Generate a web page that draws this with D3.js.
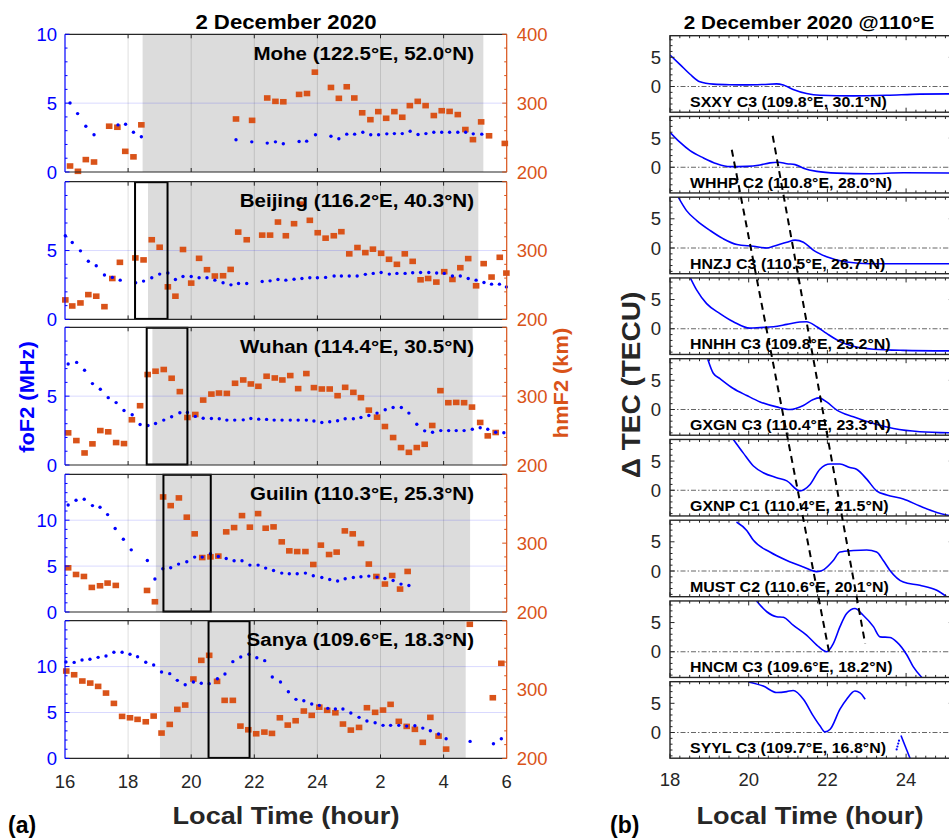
<!DOCTYPE html>
<html>
<head>
<meta charset="utf-8">
<script src="https://cdn.jsdelivr.net/npm/d3@7"></script>
<style>
  html, body { margin: 0; padding: 0; background: #fff; }
  svg { display: block; font-family: Arial, "Liberation Sans", Helvetica, sans-serif; }
</style>
</head>
<body>
<svg id="fig" width="949" height="838"></svg>
<script>
// ---------- (a) ionosonde stations: foF2 (MHz) and hmF2 (km) versus local time ----------
const stationNames = [
  "Mohe (122.5°E, 52.0°N)", "Beijing (116.2°E, 40.3°N)", "Wuhan (114.4°E, 30.5°N)",
  "Guilin (110.3°E, 25.3°N)", "Sanya (109.6°E, 18.3°N)"
];
const foF2Max = [10, 10, 10, 15, 15];
const foF2TickLabels = [[0, 5, 10], [0, 5], [0, 5], [0, 5, 10], [0, 5, 10]];
const hmF2TickLabels = [[200, 300, 400], [200, 300], [200, 300], [200, 300], [200, 300]];
const nightStart = [18.46, 18.63, 18.77, 18.88, 19.01];
const nightEnd = [29.26, 29.10, 28.92, 28.84, 28.70];
const boxStart = [null, 18.22, 18.59, 19.12, 20.55];
const boxEnd = [null, 19.25, 19.88, 20.62, 21.85];
const xTicksA = [16, 18, 20, 22, 24, 26, 28, 30];
const xTickLabelsA = ["16", "18", "20", "22", "24", "2", "4", "6"];

const moheFoF2 = [[16.16,5.01],[16.40,4.24],[16.66,3.32],[16.92,2.70],[17.68,3.42],[17.92,3.47],[18.17,2.89],[18.42,2.56],
  [21.42,2.34],[21.92,2.19],[22.41,2.10],[22.67,2.19],[22.92,2.05],[23.42,2.21],[23.66,2.24],[23.94,2.70],[24.43,2.60],
  [24.68,2.41],[24.93,2.75],[25.18,2.75],[25.44,2.89],[25.69,2.70],[25.94,2.70],[26.20,2.77],[26.44,2.79],[26.69,2.79],
  [26.94,2.96],[27.19,2.72],[27.44,2.79],[27.69,2.89],[27.94,2.89],[28.19,2.89],[28.45,2.89],[28.70,2.89],[28.94,2.77],[29.21,2.75]];
const moheHmF2 = [[16.16,208.7],[16.41,201],[16.66,218],[16.92,214.5],[17.40,266.5],[17.66,265],[17.91,230],[18.17,222],[18.42,268.5],
  [21.42,277],[21.93,275],[22.41,307.5],[22.67,302.6],[22.92,302],[23.42,312.7],[23.67,314],[23.92,345],[24.43,322.8],[24.68,307],
  [24.93,323.8],[25.17,307.5],[25.42,286],[25.68,276],[25.93,287.7],[26.18,278],[26.44,287.7],[26.69,279.5],[26.93,296.4],
  [27.18,302.6],[27.43,296.4],[27.69,282],[27.94,289],[28.19,288],[28.45,283.4],[28.69,261.7],[28.93,247],[29.19,272.8],
  [29.44,252.6],[29.94,241.5]];

const beijingFoF2 = [[16.01,6.08],[16.23,5.59],[16.49,4.98],[16.74,4.22],[16.99,3.90],[17.25,3.22],[17.50,3.05],[17.75,2.85],
  [18.24,2.66],[18.49,2.78],[18.75,3.02],[19.00,3.29],[19.26,3.37],[19.50,2.90],[19.74,3.12],[20.00,3.12],[20.25,3.02],
  [20.50,3.02],[20.75,2.85],[21.01,2.66],[21.26,2.51],[21.50,2.61],[21.76,2.61],[22.25,2.75],[22.50,2.80],[22.75,2.90],
  [23.00,2.85],[23.26,2.92],[23.51,2.97],[23.76,3.02],[24.00,3.02],[24.26,3.05],[24.53,3.15],[24.76,3.15],[25.01,3.15],
  [25.26,3.15],[25.52,3.27],[25.77,3.34],[26.02,3.41],[26.28,3.29],[26.52,3.34],[26.78,3.34],[27.02,3.39],[27.27,3.41],
  [27.53,3.41],[27.78,3.37],[28.02,3.34],[28.28,3.15],[28.53,3.15],[28.78,2.97],[29.03,2.85],[29.28,2.68],[29.52,2.56],
  [29.77,2.56],[29.99,2.36]];
const beijingHmF2 = [[16.01,228.3],[16.23,219.5],[16.49,223.9],[16.74,236],[16.99,233.7],[17.25,218.5],[17.50,259.4],[17.74,282.9],
  [18.23,289.3],[18.49,286.4],[18.75,315.7],[19.00,304.8],[19.26,247.3],[19.50,233.7],[19.74,301.5],[20.00,252.7],[20.25,288.7],
  [20.50,272.2],[20.75,263],[21.01,263.4],[21.25,272.6],[21.49,326.8],[21.76,315.7],[22.25,322.4],[22.50,322.4],[22.75,341.4],
  [23.00,321.5],[23.26,339],[23.51,367.4],[23.76,343.9],[24.01,325.9],[24.26,318],[24.52,321.5],[24.76,327.4],[25.01,295.2],
  [25.27,304.4],[25.52,297],[25.76,302],[26.02,296],[26.27,287.3],[26.52,280],[26.77,295.2],[27.02,284.3],[27.27,257.5],
  [27.51,259.4],[27.77,254.2],[28.02,269.3],[28.28,258],[28.53,275.1],[28.78,288.3],[29.03,248.8],[29.27,281],[29.52,261.5],
  [29.78,290.2],[29.99,267.3]];

const wuhanFoF2 = [[16.10,7.34],[16.37,7.45],[16.62,6.88],[16.87,5.91],[17.12,5.50],[17.37,4.89],[17.62,4.53],[17.87,3.96],
  [18.13,3.65],[18.38,2.94],[18.63,2.87],[18.87,3.01],[19.13,3.26],[19.38,3.50],[19.64,3.79],[19.88,3.82],[20.13,3.53],
  [20.38,3.40],[20.64,3.38],[20.89,3.36],[21.13,3.26],[21.38,3.26],[21.65,3.28],[21.89,3.38],[22.14,3.33],[22.39,3.31],
  [22.63,3.26],[22.88,3.26],[23.14,3.26],[23.39,3.26],[23.65,3.26],[23.89,3.20],[24.14,3.09],[24.39,3.14],[24.64,3.21],
  [24.88,3.36],[25.14,3.36],[25.38,3.45],[25.63,3.60],[25.89,3.77],[26.15,4.01],[26.40,4.18],[26.66,4.18],[26.90,3.77],
  [27.15,2.96],[27.40,2.48],[27.65,2.38],[27.91,2.50],[28.16,2.50],[28.40,2.50],[28.65,2.50],[28.91,2.60],[29.16,2.70],
  [29.40,2.60],[29.65,2.38],[29.91,2.34]];
const wuhanHmF2 = [[16.10,246.7],[16.36,235.5],[16.62,217.5],[16.87,230.7],[17.12,250],[17.37,248.2],[17.62,232.6],[17.87,231.1],
  [18.12,265.7],[18.38,286.1],[18.62,331.4],[18.87,336.2],[19.13,338.7],[19.38,326],[19.64,306.6],[19.88,269],[20.13,273.4],
  [20.38,294.3],[20.64,303],[20.88,304.5],[21.13,304],[21.39,318.7],[21.65,323.5],[21.89,317.7],[22.13,314.3],[22.39,328.9],
  [22.65,326.4],[22.89,323.5],[23.14,329.9],[23.39,310.9],[23.65,332.8],[23.89,312.4],[24.14,310.4],[24.39,310.4],[24.64,300.7],
  [24.88,312.8],[25.14,305.5],[25.38,297.8],[25.63,279.7],[25.89,269.5],[26.14,255.9],[26.40,239.9],[26.65,225.3],[26.90,218.4],
  [27.15,225.3],[27.40,230.1],[27.64,257.4],[27.90,308],[28.15,290.5],[28.40,290.9],[28.65,290.5],[28.90,284.1],[29.16,261.8],
  [29.40,242.3],[29.65,247.2]];

const guilinFoF2 = [[16.10,11.66],[16.35,12.17],[16.61,12.28],[16.87,11.59],[17.11,11.41],[17.35,10.61],[17.59,9.09],[17.85,7.93],
  [18.10,6.77],[18.61,5.61],[18.85,3.59],[19.10,4.71],[19.35,4.82],[19.60,5.22],[19.86,5.47],[20.11,5.98],[20.35,5.98],
  [20.61,6.34],[20.86,6.05],[21.11,5.83],[21.36,5.58],[21.61,5.58],[21.86,5.11],[22.12,5.11],[22.36,4.78],[22.61,4.52],
  [22.87,4.24],[23.11,4.16],[23.36,4.16],[23.62,4.24],[23.87,3.95],[24.14,3.76],[24.39,3.54],[24.64,3.37],[24.88,3.62],
  [25.14,3.76],[25.38,3.84],[25.63,3.91],[25.89,3.80],[26.14,3.65],[26.40,3.43],[26.65,3.04],[26.90,2.89]];
const guilinHmF2 = [[16.10,264.2],[16.35,254.5],[16.60,251.6],[16.85,235.7],[17.11,238.1],[17.35,242],[17.61,238.6],[18.60,231.3],
  [18.85,214.9],[19.11,367.1],[19.35,354.5],[19.61,365.7],[19.86,337.7],[20.11,313.5],[20.35,279.1],[20.61,280.1],[20.86,281.2],
  [21.11,316.4],[21.36,322.6],[21.61,340],[21.86,323.2],[22.12,342.9],[22.36,321.7],[22.61,323.6],[22.87,301.9],[23.11,288.8],
  [23.36,287.8],[23.62,287.8],[23.87,269],[24.11,297.1],[24.37,283.5],[24.61,287],[24.87,317.8],[25.12,313.5],[25.38,299.4],
  [25.63,269.6],[25.87,251.6],[26.14,240.6],[26.37,253],[26.62,233.3],[26.86,258.9]];

const sanyaFoF2 = [[16.03,10.50],[16.29,10.46],[16.54,10.72],[16.79,10.80],[17.05,11.01],[17.30,11.16],[17.55,11.56],[17.81,11.56],
  [18.06,11.34],[18.30,11.08],[18.56,10.47],[18.81,10.17],[19.06,9.41],[19.32,9.23],[19.56,8.50],[19.81,8.03],[20.07,8.32],
  [20.32,8.18],[20.57,8.14],[20.83,8.68],[21.07,9.19],[21.32,10.54],[21.57,11.05],[21.83,11.34],[22.08,10.97],[22.33,10.65],
  [22.57,8.87],[22.83,8.32],[23.08,7.26],[23.32,6.43],[23.57,6.28],[23.82,5.92],[24.06,5.78],[24.33,5.45],[24.57,5.38],
  [24.81,5.38],[25.06,4.94],[25.32,4.47],[25.57,4.07],[25.83,3.88],[26.08,3.60],[26.32,3.60],[26.58,3.60],[26.83,3.52],
  [27.09,3.56],[27.34,3.30],[27.58,3.01],[27.84,2.65],[28.08,2.14],[28.84,1.85],[29.58,1.59],[29.83,2.14]];
const sanyaHmF2 = [[16.04,326.9],[16.29,321.5],[16.55,312.4],[16.80,309.4],[17.05,304.6],[17.30,294.9],[17.55,279.9],[17.81,261],
  [18.06,259],[18.30,256.7],[18.56,253.2],[18.81,261.5],[19.06,236.8],[19.32,249.4],[19.56,271.2],[19.81,277.5],[20.07,315.3],
  [20.32,342.4],[20.57,349.7],[20.82,311.9],[21.06,284.3],[21.32,284.3],[21.56,246.9],[21.81,241.6],[22.06,235.8],[22.32,238.2],
  [22.56,236.3],[22.81,259],[23.06,248.4],[23.31,254.7],[23.57,268.8],[23.82,262.5],[24.06,274.4],[24.31,269.8],[24.57,266.3],
  [24.81,249.9],[25.06,241.1],[25.32,245],[25.57,273.6],[25.83,266.9],[26.08,270.2],[26.32,278.5],[26.58,253.8],[26.83,246.5],
  [27.09,242.2],[27.34,223.3],[27.58,259.6],[27.84,232.4],[28.08,213.5],[28.83,394.8],[29.56,288.1],[29.83,338.1]];

const foF2Series = [moheFoF2, beijingFoF2, wuhanFoF2, guilinFoF2, sanyaFoF2];
const hmF2Series = [moheHmF2, beijingHmF2, wuhanHmF2, guilinHmF2, sanyaHmF2];

// ---------- (b) GNSS receivers along 110°E: detrended TEC (TECU) ----------
const tecLabels = [
  "SXXY C3 (109.8°E, 30.1°N)", "WHHP C2 (110.8°E, 28.0°N)", "HNZJ C3 (110.5°E, 26.7°N)",
  "HNHH C3 (109.8°E, 25.2°N)", "GXGN C3 (110.4°E, 23.3°N)", "GXNP C1 (110.4°E, 21.5°N)",
  "MUST C2 (110.6°E, 20.1°N)", "HNCM C3 (109.6°E, 18.2°N)", "SYYL C3 (109.7°E, 16.8°N)"
];
const xTicksB = [18, 20, 22, 24];
const yTicksB = [0, 5];

const sxxyTec = [[18.0,5.4],[18.25,3.8],[18.51,2.1],[18.76,0.8],[19.10,0.4],[19.52,0.3],[19.95,0.28],[20.37,0.35],[20.71,0.45],
  [20.88,0.25],[21.13,-0.5],[21.47,-1.2],[21.81,-1.5],[22.66,-1.6],[23.51,-1.5],[24.35,-1.3],[25.2,-1.25]];
const whhpTec = [[18.0,6.0],[18.25,4.3],[18.51,2.85],[18.85,1.6],[19.19,0.6],[19.52,0.1],[19.95,0.15],[20.29,0.4],[20.54,0.75],
  [20.75,0.85],[20.97,0.6],[21.18,0.45],[21.39,-0.15],[21.73,-0.7],[22.24,-1.0],[23.08,-1.1],[23.93,-0.95],[25.2,-1.0]];
const hnzjTec = [[18.21,8.7],[18.42,6.4],[18.68,4.7],[19.02,3.0],[19.35,1.6],[19.70,0.6],[20.12,0.3],[20.46,0.0],[20.63,0.3],
  [20.97,1.0],[21.18,1.35],[21.39,1.0],[21.65,-0.4],[21.98,-1.5],[22.49,-2.4],[23.08,-2.7],[25.2,-2.7]];
const hnhhTec = [[18.51,8.8],[18.68,6.6],[18.93,4.3],[19.27,2.6],[19.61,1.2],[20.03,0.1],[20.29,0.2],[20.63,0.35],[20.97,0.75],
  [21.30,1.15],[21.47,1.2],[21.73,0.35],[21.98,-0.8],[22.32,-2.2],[22.66,-3.0],[23.17,-3.5],[23.93,-3.7],[25.2,-3.8]];
const gxgnTec = [[18.96,8.6],[19.10,6.2],[19.27,5.3],[19.61,3.6],[19.95,2.4],[20.29,1.3],[20.71,0.45],[21.05,0.0],[21.39,0.7],
  [21.64,1.7],[21.79,2.0],[21.98,1.3],[22.24,-0.1],[22.66,-1.25],[23.17,-2.4],[23.68,-3.25],[24.35,-3.8],[25.2,-4.0]];
const gxnpTec = [[19.61,8.7],[19.86,6.4],[20.12,4.15],[20.37,3.0],[20.71,2.15],[20.97,1.6],[21.30,-0.1],[21.56,1.0],[21.81,3.6],
  [22.07,4.5],[22.32,4.5],[22.57,3.9],[22.74,3.6],[23.00,1.9],[23.25,-0.1],[23.51,-0.8],[23.93,-1.5],[24.35,-2.7],[24.78,-3.8],[25.2,-4.5]];
const mustTec = [[19.69,8.4],[19.95,6.95],[20.12,5.25],[20.54,3.25],[20.97,1.8],[21.39,0.7],[21.73,-0.1],[21.90,0.2],[22.15,1.8],
  [22.32,3.25],[22.66,3.5],[23.00,3.6],[23.25,3.25],[23.42,1.8],[23.59,0.1],[23.93,-1.9],[24.35,-2.45],[24.78,-3.3],[25.03,-4.4]];
const hncmTec = [[20.20,8.7],[20.46,6.85],[20.71,6.0],[20.88,5.9],[21.13,4.55],[21.47,2.85],[21.73,1.15],[21.98,0.0],[22.15,1.4],
  [22.32,4.3],[22.49,6.55],[22.70,7.4],[22.91,6.25],[23.17,4.3],[23.34,2.55],[23.59,2.45],[23.76,1.7],[24.02,-0.55],[24.18,-2.55],[24.40,-4.4]];
const syylTec = [[19.99,8.65],[20.37,7.95],[20.71,6.85],[20.97,7.0],[21.13,7.2],[21.39,5.7],[21.64,2.85],[21.81,1.15],[21.94,0.1],
  [22.07,0.55],[22.32,4.0],[22.49,5.7],[22.70,7.1],[22.83,6.8],[22.96,5.7]];
const syylTecLate = [[23.87,-0.5],[24.10,-4.4]];
const syylTecSparse = [[23.76,-2.9],[23.78,-2.4],[23.80,-1.9],[23.82,-1.4]];

const tecSeries = [sxxyTec, whhpTec, hnzjTec, hnhhTec, gxgnTec, gxnpTec, mustTec, hncmTec, [syylTec, syylTecLate]];

// two travelling-disturbance fronts: panel index, time, TEC value at each end
const frontStart = [[1, 19.57, 3.0], [1, 20.61, 5.4]];
const frontEnd = [[7, 22.05, -0.3], [7, 22.96, 1.4]];

// ---------- drawing ----------
const AX = "#262626", BLUE = "#0000ff", ORANGE = "#d95319", SHADE = "#dcdcdc";
const svg = d3.select("#fig");

function addText(parent, str, x, y, o = {}) {
  const t = parent.append("text")
    .attr("transform", `translate(${x},${y})${o.rot ? ` rotate(${o.rot})` : ""} scale(${o.sx || 1},1)`)
    .attr("font-size", o.size || 18)
    .attr("font-weight", o.weight || "normal")
    .attr("fill", o.fill || AX)
    .attr("text-anchor", o.anchor || "start")
    .text(str);
  if (o.dy) t.attr("dy", o.dy);
  return t;
}
function hline(g, x1, x2, y, color, w = 1) {
  g.append("line").attr("x1", x1).attr("x2", x2).attr("y1", y).attr("y2", y).attr("stroke", color).attr("stroke-width", w);
}
function vline(g, x, y1, y2, color, w = 1) {
  g.append("line").attr("x1", x).attr("x2", x).attr("y1", y1).attr("y2", y2).attr("stroke", color).attr("stroke-width", w);
}

// panel (a)
const aLeft = 65, aRight = 506.7, aH = 137.7;
const aTops = [34.3, 181.7, 327.3, 474.3, 620.7];
const xA = d3.scaleLinear().domain([16, 30]).range([aLeft, aRight]);

stationNames.forEach((name, i) => {
  const top = aTops[i], bot = top + aH;
  const yF = d3.scaleLinear().domain([0, foF2Max[i]]).range([bot, top]);
  const yH = d3.scaleLinear().domain([200, 400]).range([bot, top]);
  const g = svg.append("g");

  g.append("rect").attr("x", xA(nightStart[i])).attr("y", top)
    .attr("width", xA(nightEnd[i]) - xA(nightStart[i])).attr("height", aH).attr("fill", SHADE);

  g.selectAll("line.vgrid").data(xTicksA.slice(1, -1)).join("line").attr("class", "vgrid")
    .attr("x1", d => xA(d)).attr("x2", d => xA(d)).attr("y1", top).attr("y2", bot)
    .attr("stroke", AX).attr("stroke-opacity", 0.15);
  g.selectAll("line.hgrid").data(d3.range(5, foF2Max[i], 5)).join("line").attr("class", "hgrid")
    .attr("x1", aLeft).attr("x2", aRight).attr("y1", d => yF(d)).attr("y2", d => yF(d))
    .attr("stroke", BLUE).attr("stroke-opacity", 0.15);

  g.selectAll("rect.hm").data(hmF2Series[i]).join("rect").attr("class", "hm")
    .attr("x", d => xA(d[0]) - 3.3).attr("y", d => yH(d[1]) - 2.8)
    .attr("width", 6.6).attr("height", 5.6).attr("fill", ORANGE);
  g.selectAll("circle.fo").data(foF2Series[i]).join("circle").attr("class", "fo")
    .attr("cx", d => xA(d[0])).attr("cy", d => yF(d[1])).attr("r", 1.7).attr("fill", BLUE);

  if (boxStart[i] !== null) {
    g.append("rect").attr("x", xA(boxStart[i])).attr("y", top + 0.5)
      .attr("width", xA(boxEnd[i]) - xA(boxStart[i])).attr("height", aH - 1)
      .attr("fill", "none").attr("stroke", "#000").attr("stroke-width", 2);
  }

  // frame
  hline(g, aLeft, aRight, top, AX, 1.2);
  hline(g, aLeft, aRight, bot, AX, 1.2);
  vline(g, aLeft, top, bot, BLUE, 1.2);
  vline(g, aRight, top, bot, ORANGE, 1.2);

  // ticks
  xTicksA.slice(1, -1).forEach(t => {
    vline(g, xA(t), bot, bot - 4, AX);
    vline(g, xA(t), top, top + 4, AX);
  });
  d3.range(0, foF2Max[i] + 0.01, 1).forEach(v => {
    const major = v % 5 === 0;
    hline(g, aLeft, aLeft + (major ? 4.5 : 2.5), yF(v), BLUE);
  });
  d3.range(200, 401, 20).forEach(v => {
    const major = v % 100 === 0;
    hline(g, aRight, aRight - (major ? 4.5 : 2.5), yH(v), ORANGE);
  });
  foF2TickLabels[i].forEach(v => addText(g, String(v), aLeft - 8, yF(v), { fill: BLUE, anchor: "end", dy: "0.36em", size: 18.5 }));
  hmF2TickLabels[i].forEach(v => addText(g, String(v), aRight + 10, yH(v), { fill: ORANGE, anchor: "start", dy: "0.36em", size: 18.5 }));

  addText(g, name, 474, top + 25.5, { size: 18.5, weight: "bold", fill: "#000", anchor: "end", sx: 1.11 });

  if (i === stationNames.length - 1) {
    xTicksA.forEach((t, k) => addText(g, xTickLabelsA[k], xA(t), bot + 30, { anchor: "middle", size: 18.5 }));
  }
});

addText(svg, "2 December 2020", 286, 29, { size: 20, weight: "bold", fill: "#000", anchor: "middle", sx: 1.11 });
addText(svg, "foF2 (MHz)", 27, 397, { size: 19.5, weight: "bold", fill: BLUE, anchor: "middle", rot: -90, dy: "0.35em", sx: 1.12 });
addText(svg, "hmF2 (km)", 561, 383, { size: 19.5, weight: "bold", fill: ORANGE, anchor: "middle", rot: -90, dy: "0.35em", sx: 1.12 });
addText(svg, "Local Time (hour)", 286, 824, { size: 24, weight: "bold", anchor: "middle", sx: 1.13 });
addText(svg, "(a)", 8, 833, { size: 23, weight: "bold", fill: "#000" });

// panel (b)
const bLeft = 670, bRight = 953.3, bH = 76.5, bPitch = 80.75, bTop0 = 35.7;
const xB = d3.scaleLinear().domain([18, 25.2]).range([bLeft, bRight]);
const bTop = k => bTop0 + k * bPitch;
const yB = k => d3.scaleLinear().domain([-4.4, 8.7]).range([bTop(k) + bH, bTop(k)]);
const tecLine = (k) => d3.line().x(d => xB(d[0])).y(d => yB(k)(d[1])).curve(d3.curveMonotoneX);

const defs = svg.append("defs");
tecLabels.forEach((name, k) => {
  const top = bTop(k), bot = top + bH, y = yB(k);
  const g = svg.append("g");
  defs.append("clipPath").attr("id", `clipB${k}`)
    .append("rect").attr("x", bLeft).attr("y", top).attr("width", bRight - bLeft).attr("height", bH);

  // zero reference
  g.append("line").attr("x1", bLeft).attr("x2", bRight).attr("y1", y(0)).attr("y2", y(0))
    .attr("stroke", "#555").attr("stroke-width", 0.9).attr("stroke-dasharray", "5,2,1.5,2");

  const series = k === 8 ? tecSeries[k] : [tecSeries[k]];
  const lg = g.append("g").attr("clip-path", `url(#clipB${k})`);
  series.forEach(s => {
    lg.append("path").attr("d", tecLine(k)(s)).attr("fill", "none").attr("stroke", BLUE).attr("stroke-width", 1.6);
  });
  if (k === 8) {
    lg.selectAll("circle.sparse").data(syylTecSparse).join("circle").attr("class", "sparse")
      .attr("cx", d => xB(d[0])).attr("cy", d => y(d[1])).attr("r", 1.1).attr("fill", BLUE);
  }

  // frame and ticks on all four sides
  g.append("rect").attr("x", bLeft).attr("y", top).attr("width", bRight - bLeft).attr("height", bH)
    .attr("fill", "none").attr("stroke", AX).attr("stroke-width", 1.4);
  d3.range(18, 25.21, 0.25).forEach(t => {
    const len = Math.abs(t - Math.round(t / 2) * 2) < 1e-6 ? 4.5 : 2.5;
    vline(g, xB(t), bot, bot - len, AX);
    vline(g, xB(t), top, top + len, AX);
  });
  d3.range(-4, 8.01, 1).forEach(v => {
    const len = v % 5 === 0 ? 4.5 : 2.5;
    hline(g, bLeft, bLeft + len, y(v), AX);
    hline(g, bRight, bRight - len, y(v), AX);
  });
  yTicksB.forEach(v => addText(g, String(v), 661, y(v), { anchor: "end", dy: "0.36em", size: 18.5 }));
  addText(g, name, 690, bot - 5, { size: 15.5, weight: "bold", fill: "#000", sx: 1.03 });

  if (k === tecLabels.length - 1) {
    xTicksB.forEach(t => addText(g, String(t), xB(t), bot + 28, { anchor: "middle", size: 18.5 }));
  }
});

// fronts drawn across the stacked panels
const fg = svg.append("g");
frontStart.forEach((s, j) => {
  const e = frontEnd[j];
  fg.append("line")
    .attr("x1", xB(s[1])).attr("y1", yB(s[0])(s[2]))
    .attr("x2", xB(e[1])).attr("y2", yB(e[0])(e[2]))
    .attr("stroke", "#000").attr("stroke-width", 2).attr("stroke-dasharray", "7,5");
});

addText(svg, "2 December 2020 @110°E", 809, 29, { size: 19, weight: "bold", fill: "#000", anchor: "middle", sx: 1.09 });
addText(svg, "Δ TEC (TECU)", 631, 385, { size: 25, weight: "bold", anchor: "middle", rot: -90, dy: "0.35em", sx: 1.12 });
addText(svg, "Local Time (hour)", 810, 824, { size: 24, weight: "bold", anchor: "middle", sx: 1.13 });
addText(svg, "(b)", 610, 833, { size: 23, weight: "bold", fill: "#000" });
</script>
</body>
</html>
